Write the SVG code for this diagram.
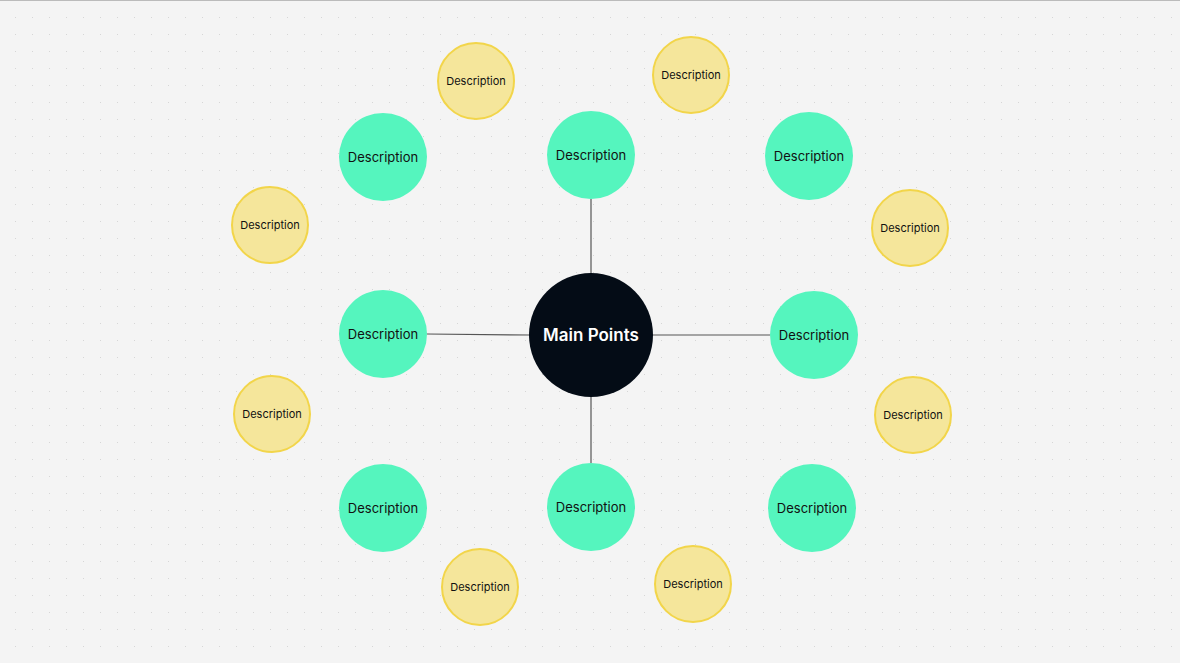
<svg xmlns="http://www.w3.org/2000/svg" width="1180" height="663" viewBox="0 0 1180 663">
<style>
.g{fill:#55f5be}
.y{fill:#f5e69b;stroke:#f2d54a;stroke-width:2}
text{font-family:Inter,"Liberation Sans",sans-serif;text-anchor:middle;dominant-baseline:central;fill:#111}
.gt{font-size:13px}
.yt{font-size:11px}
.c line{stroke:#555;stroke-width:1.2}
</style>
<defs><pattern id="d" x="15" y="17" width="17" height="17" patternUnits="userSpaceOnUse"><rect width="1" height="1" fill="#d6d6d6"/></pattern></defs>
<rect width="1180" height="663" fill="#f4f4f4"/>
<rect width="1180" height="663" fill="url(#d)"/>
<rect width="1180" height="1" fill="#bbb"/>
<g class="c" id="connectors">
<line x1="591" y1="199" x2="591" y2="275"/>
<line x1="427" y1="334" x2="530" y2="335"/>
<line x1="652" y1="335" x2="770" y2="335"/>
<line x1="591" y1="396" x2="591" y2="463"/>
</g>
<g id="main"><circle cx="591" cy="335" r="62" fill="#040c16"/><text x="591" y="335" style="font-size:17px;font-weight:600;fill:#fff">Main Points</text></g>
<g id="n1"><circle class="g" cx="591" cy="155" r="44"/><text class="gt" x="591" y="155">Description</text></g>
<g id="n2"><circle class="g" cx="383" cy="157" r="44"/><text class="gt" x="383" y="157">Description</text></g>
<g id="n3"><circle class="g" cx="809" cy="156" r="44"/><text class="gt" x="809" y="156">Description</text></g>
<g id="n4"><circle class="g" cx="383" cy="334" r="44"/><text class="gt" x="383" y="334">Description</text></g>
<g id="n5"><circle class="g" cx="814" cy="335" r="44"/><text class="gt" x="814" y="335">Description</text></g>
<g id="n6"><circle class="g" cx="383" cy="508" r="44"/><text class="gt" x="383" y="508">Description</text></g>
<g id="n7"><circle class="g" cx="591" cy="507" r="44"/><text class="gt" x="591" y="507">Description</text></g>
<g id="n8"><circle class="g" cx="812" cy="508" r="44"/><text class="gt" x="812" y="508">Description</text></g>
<g id="y1"><circle class="y" cx="476" cy="81" r="38"/><text class="yt" x="476" y="81">Description</text></g>
<g id="y2"><circle class="y" cx="691" cy="75" r="38"/><text class="yt" x="691" y="75">Description</text></g>
<g id="y3"><circle class="y" cx="270" cy="225" r="38"/><text class="yt" x="270" y="225">Description</text></g>
<g id="y4"><circle class="y" cx="910" cy="228" r="38"/><text class="yt" x="910" y="228">Description</text></g>
<g id="y5"><circle class="y" cx="272" cy="414" r="38"/><text class="yt" x="272" y="414">Description</text></g>
<g id="y6"><circle class="y" cx="913" cy="415" r="38"/><text class="yt" x="913" y="415">Description</text></g>
<g id="y7"><circle class="y" cx="480" cy="587" r="38"/><text class="yt" x="480" y="587">Description</text></g>
<g id="y8"><circle class="y" cx="693" cy="584" r="38"/><text class="yt" x="693" y="584">Description</text></g>
</svg>
